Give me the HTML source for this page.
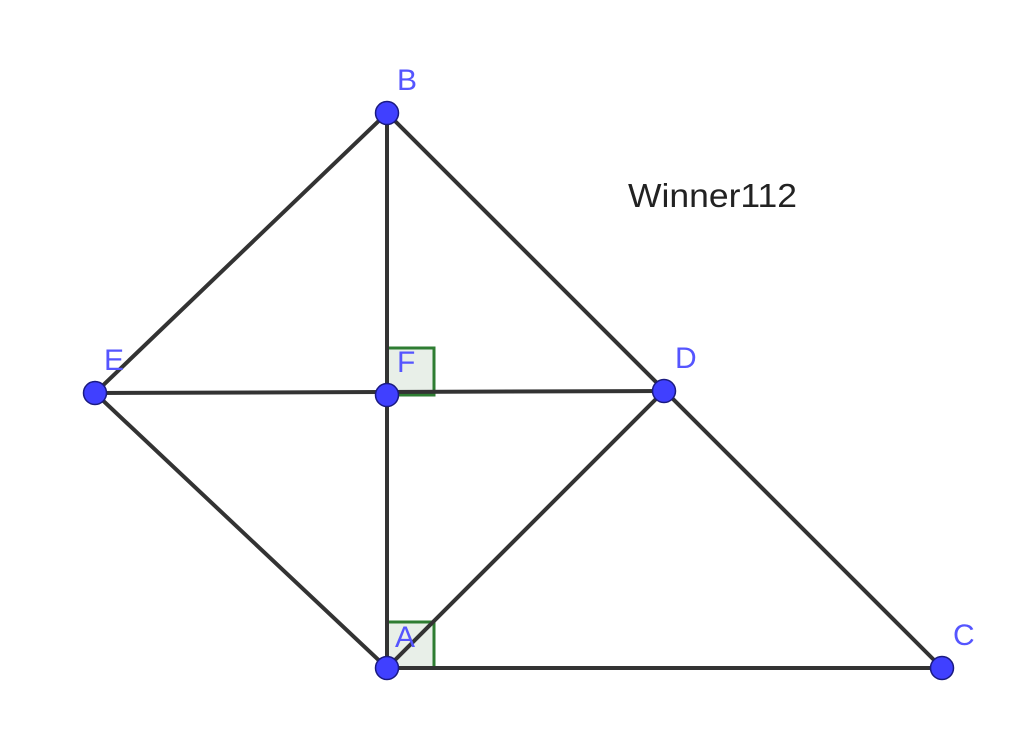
<!DOCTYPE html>
<html><head><style>body{margin:0;background:#fff}svg{display:block}</style></head><body>
<svg width="1024" height="752" xmlns="http://www.w3.org/2000/svg">
<g fill="#e8efe8" stroke="#2e7d32" stroke-width="3">
<rect x="387" y="348" width="47" height="47"/>
<rect x="387" y="622" width="47" height="46"/>
</g>
<g stroke="#333" stroke-width="4" stroke-linecap="round">
<line x1="387" y1="113" x2="95" y2="393"/>
<line x1="387" y1="113" x2="387" y2="668"/>
<line x1="387" y1="113" x2="942" y2="668"/>
<line x1="95" y1="393" x2="664" y2="391"/>
<line x1="95" y1="393" x2="387" y2="668"/>
<line x1="664" y1="391" x2="387" y2="668"/>
<line x1="387" y1="668" x2="942" y2="668"/>
</g>
<g fill="#4040ff" stroke="#1a1a80" stroke-width="1.5">
<circle cx="387" cy="113" r="11.5"/><circle cx="95" cy="393" r="11.5"/>
<circle cx="387" cy="395" r="11.5"/><circle cx="664" cy="391" r="11.5"/>
<circle cx="387" cy="668" r="11.5"/><circle cx="942" cy="668" r="11.5"/>
</g>
<g fill="#5555ff" font-family="Liberation Sans, sans-serif" font-size="30">
<text x="397" y="90">B</text><text x="104" y="370">E</text>
<text x="397" y="372">F</text><text x="675" y="368">D</text>
<text x="395" y="647">A</text><text x="953" y="645">C</text>
</g>
<text x="628" y="207" font-family="Liberation Sans, sans-serif" font-size="33" fill="#222" textLength="169" lengthAdjust="spacingAndGlyphs">Winner112</text>
</svg>
</body></html>
